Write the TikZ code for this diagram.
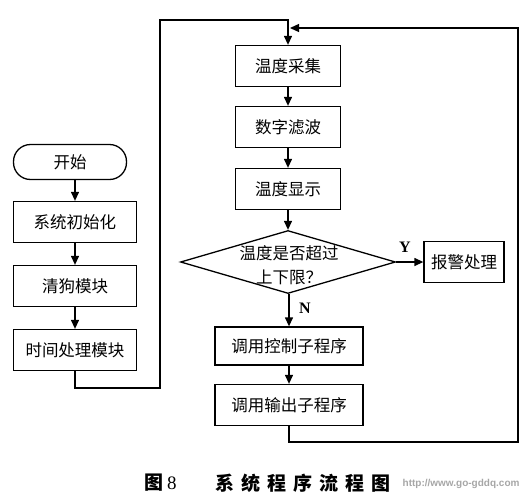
\documentclass[tikz,border=0pt]{standalone}
\usepackage{fontspec}
\setmainfont{Noto Sans CJK SC}
\newfontfamily\latinfont{Liberation Serif}
\newfontfamily\markfont{Liberation Sans}
\newfontfamily\capfont[LetterSpace=36]{Noto Sans CJK SC}
\usetikzlibrary{arrows.meta,shapes.geometric}

\begin{document}
\begin{tikzpicture}[x=1pt, y=-1pt, line width=1.3pt, >={Triangle[length=9pt,width=8pt]},
  font=\fontsize{16.5}{24}\selectfont,
  proc/.style={draw, fill=white, inner sep=0pt, minimum width=123pt, minimum height=41pt},
  rproc/.style={proc, minimum width=105pt},
  term/.style={proc, minimum width=113pt, minimum height=35pt, rounded corners=17pt},
  yn/.style={font=\latinfont\bfseries\fontsize{16}{16}\selectfont}]
\useasboundingbox (0,0) rectangle (531,501);
% left column
\node[term] (st)   at (70,162)  {开始};
\node[proc] (init) at (75,222)  {系统初始化};
\node[proc] (wd)   at (75,286)  {清狗模块};
\node[proc] (tm)   at (75,350)  {时间处理模块};
% right column
\node[rproc] (cj) at (288,66)  {温度采集};
\node[rproc] (lb) at (288,127) {数字滤波};
\node[rproc] (xs) at (288,189) {温度显示};
\node[draw, diamond, inner sep=0pt, minimum width=215pt, minimum height=63pt] (dec) at (288,262) {};
\node[align=center, inner sep=0pt] (dect) at (289,265) {温度是否超过\\上下限？};
\node[proc, minimum width=80pt] (bj) at (464,262) {报警处理};
\node[proc, minimum width=148pt, minimum height=38pt] (kz) at (289,346) {调用控制子程序};
\node[proc, minimum width=148pt] (sc) at (289,405) {调用输出子程序};
\foreach \a/\b in {st/init, init/wd, wd/tm, cj/lb, lb/xs, xs/dec, dec/kz, kz/sc}
  {\draw[->] (\b.north |- \a.south) -- (\b.north);}
\draw[->] (dec.east) -- (bj.west);
\node[yn] (y) at (405,247) {Y};
\node[yn] (n) at (305,308) {N};
% loops
\coordinate (l1) at (160,388);
\coordinate (l2) at (160,20);
\draw[->] (tm.south) |- (l1) -- (l2) -| (cj.north);
\coordinate (r1) at (518,442);
\coordinate (r2) at (518,28);
\coordinate (r3) at (290,28);
\draw[->] (sc.south) |- (r1) -- (r2) -- (r3);
% caption
\node[anchor=west, font=\bfseries\fontsize{19}{19}\selectfont] (fig) at (141,483) {图\,{\latinfont\mdseries 8}};
\node[anchor=west, font=\capfont\bfseries\fontsize{19}{19}\selectfont] (cap) at (212,483) {系统程序流程图};
\node[anchor=west, inner sep=0pt, text=gray!70, font=\markfont\bfseries\fontsize{10}{10}\selectfont] (mark) at (402,484) {http://www.go-gddq.com};
\end{tikzpicture}
\end{document}
